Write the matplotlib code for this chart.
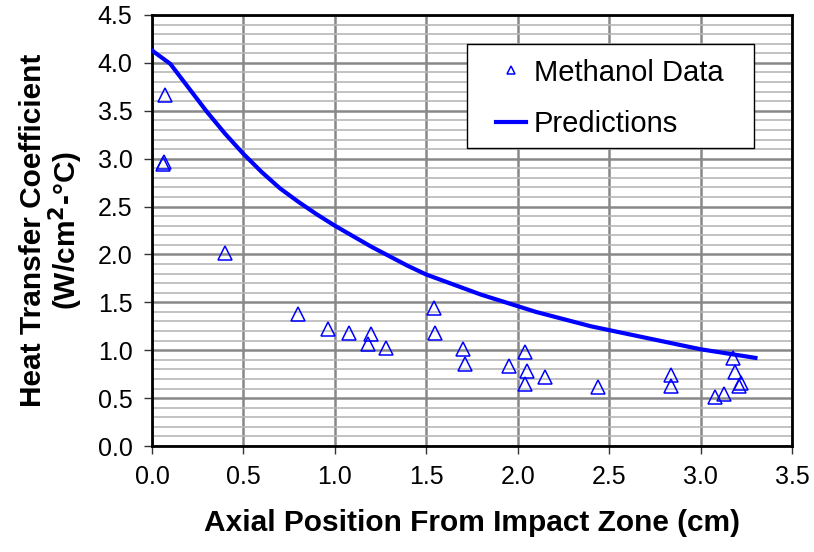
import matplotlib
matplotlib.use("Agg")
import matplotlib.pyplot as plt
from matplotlib.patches import Rectangle
from matplotlib.ticker import MultipleLocator

plt.rcParams['font.family'] = ['Liberation Sans', 'DejaVu Sans']

# Measured heat transfer coefficients (methanol)
data_x = [0.07, 0.06, 0.065, 0.40, 0.80, 0.96, 1.08, 1.20, 1.18, 1.28,
          1.54, 1.55, 1.70, 1.71, 1.95, 2.04, 2.05, 2.04, 2.15, 2.44,
          2.84, 2.84, 3.08, 3.13, 3.18, 3.19, 3.22, 3.21]
data_y = [3.66, 2.94, 2.96, 2.01, 1.38, 1.22, 1.18, 1.17, 1.07, 1.02,
          1.44, 1.18, 1.01, 0.86, 0.84, 0.98, 0.78, 0.65, 0.72, 0.62,
          0.74, 0.63, 0.51, 0.54, 0.92, 0.77, 0.66, 0.63]

# Model predictions
pred_x = [0.0, 0.1, 0.2, 0.3, 0.4, 0.5, 0.6, 0.7, 0.8, 0.9, 1.0, 1.1,
          1.2, 1.3, 1.4, 1.5, 1.6, 1.7, 1.8, 1.9, 2.0, 2.1, 2.2, 2.3,
          2.4, 2.5, 2.6, 2.7, 2.8, 2.9, 3.0, 3.1, 3.2, 3.3]
pred_y = [4.13, 3.99, 3.74, 3.49, 3.26, 3.05, 2.86, 2.69, 2.55, 2.42,
          2.30, 2.19, 2.08, 1.98, 1.88, 1.79, 1.72, 1.65, 1.58, 1.52,
          1.46, 1.40, 1.35, 1.30, 1.25, 1.21, 1.17, 1.13, 1.09, 1.05,
          1.01, 0.98, 0.95, 0.92]

W, H = 814, 552
fig = plt.figure(figsize=(W / 100, H / 100), dpi=100)
ax = fig.add_axes([152 / W, (H - 446) / H, 640 / W, 431 / H])

ax.set_xlim(0, 3.5)
ax.set_ylim(0, 4.5)
ax.xaxis.set_major_locator(MultipleLocator(0.5))
ax.yaxis.set_major_locator(MultipleLocator(0.5))
ax.yaxis.set_minor_locator(MultipleLocator(0.1))

ax.grid(which='minor', axis='y', color='#b8b8b8', lw=1.2, zorder=0)
ax.grid(which='major', axis='both', color='#888888', lw=1.8, zorder=0.5)
ax.set_axisbelow(True)

ax.plot(data_x, data_y, linestyle='none', marker='^', markersize=10,
        markerfacecolor='none', markeredgecolor='#0000ff', markeredgewidth=1.1,
        label='Methanol Data', zorder=3)
ax.plot(pred_x, pred_y, color='#0000ff', lw=3, label='Predictions', zorder=4)

for s in ax.spines.values():
    s.set_linewidth(2)
    s.set_color('black')

ax.tick_params(which='major', direction='out', length=6, width=1, color='#333333',
               labelsize=18, pad=8)
ax.tick_params(which='minor', length=0)
ax.set_xticklabels([f"{v:.1f}" for v in ax.get_xticks()])
ax.set_yticklabels([f"{v:.1f}" for v in ax.get_yticks()])

ax.set_xlabel('Axial Position From Impact Zone (cm)', fontsize=21.5,
              fontweight='bold', labelpad=14)
ax.set_ylabel('Heat Transfer Coefficient\n(W/cm$^\\mathbf{2}$-°C)', fontsize=21.5,
              fontweight='bold', labelpad=9, linespacing=1.0)

# Legend box drawn separately so its padding can be set freely
box = Rectangle((0.492, 0.691), 0.449, 0.242, transform=ax.transAxes,
                facecolor='white', edgecolor='black', lw=1, zorder=5)
ax.add_patch(box)
leg = ax.legend(loc='center left', bbox_to_anchor=(0.537, 0.807),
                fontsize=21, frameon=False, markerscale=0.55,
                handlelength=1.05, handletextpad=0.25, borderpad=0,
                labelspacing=0.8, borderaxespad=0)
leg.set_zorder(6)

fig.savefig('out.png', dpi=100)
